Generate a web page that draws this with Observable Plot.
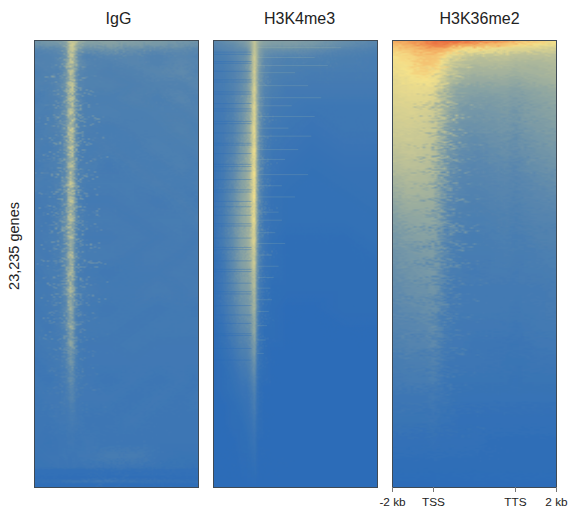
<!DOCTYPE html>
<html><head><meta charset="utf-8">
<script src="https://cdn.jsdelivr.net/npm/d3@7"></script>
<script src="https://cdn.jsdelivr.net/npm/@observablehq/plot@0.6"></script>
<style>
html,body{margin:0;padding:0;background:#fff}
#c{position:relative;width:578px;height:532px;overflow:hidden}
#c svg{position:absolute;top:0}
</style></head><body><div id="c"></div>
<script>
const titles = ["IgG", "H3K4me3", "H3K36me2"];
const titleShift = [2, 4, 5];
const yLabel = "23,235 genes";
const tickPos = [0, 0.25, 0.75, 1];
const tickText = ["-2 kb", "TSS", "TTS", "2 kb"];
const colorDomain = [0, 60, 80, 100];
const colorRange = ["#2d6db8", "#f5e28b", "#f3a35a", "#e8603a"];

const iggX = [0,.08,.15,.19,.205,.22,.235,.25,.27,.32,.45,.6,.75,.9,1];
const iggY = [0,1,2,3.5,5,7,10,13,16,20,24,28,32,36,40,44,48,52,56,60,64,68,72,76,80,85,90,93,95.5,96,98,98.6,99.2,100];
const iggV = [
[20,22,24,28,36,46,46,42,34,28,28,26,24,22,20],
[18,20,20,24,36,48,48,38,28,24,26,24,22,20,18],
[12,13,15,20,34,44,46,34,22,17,19,17,15,15,13],
[10,11,12,18,32,46,44,28,15,11,13,13,11,13,11],
[12,11,13,20,34,44,46,30,17,12,11,13,11,14,12],
[9,11,11,18,32,44,42,24,13,11,10,11,13,15,11],
[11,10,13,20,36,46,44,26,13,11,11,10,11,11,13],
[8,10,11,18,34,44,42,22,12,9,9,11,9,13,10],
[10,9,12,20,34,46,42,24,11,10,10,9,10,10,11],
[8,10,11,18,34,48,44,22,11,9,8,9,9,11,9],
[9,8,10,18,36,48,42,22,10,8,9,8,10,9,10],
[7,9,10,16,32,44,42,20,9,9,7,9,8,10,8],
[9,8,10,18,34,48,40,20,10,8,8,8,9,8,9],
[7,8,9,18,34,46,42,18,9,7,7,8,7,9,7],
[8,7,10,20,36,46,38,18,10,8,8,7,8,8,9],
[7,8,9,18,32,44,38,16,9,7,7,8,7,8,7],
[8,7,9,16,30,42,36,16,9,8,8,7,8,7,8],
[6,8,8,16,32,42,34,14,8,7,6,7,7,8,7],
[7,7,9,16,30,40,34,14,9,8,7,7,8,7,8],
[6,7,8,14,26,38,30,13,8,7,6,7,6,7,6],
[7,6,8,13,24,36,28,12,8,7,7,6,7,7,7],
[6,7,7,12,20,30,24,11,7,6,6,7,6,6,6],
[5,6,7,10,16,22,20,10,7,6,6,6,6,6,6],
[6,5,6,9,12,18,16,9,7,6,5,6,5,6,5],
[5,6,6,8,9,13,12,8,6,6,6,5,6,5,6],
[5,5,6,6,7,8,8,7,6,5,5,6,5,5,5],
[5,4,5,5,6,6,6,5,5,6,5,5,5,5,5],
[4,5,5,6,5,5,5,5,6,6,8,8,5,4,4],
[4,4,5,4,5,4,5,5,4,5,5,5,4,4,3],
[2,2,2,2,2,2,2,2,2,2,2,2,2,2,2],
[1,1,1,1,1,1,1,1,1,1,1,1,1,1,1],
[3,3,3,4,4,4,5,5,5,6,6,5,4,3,3],
[1,1,1,1,1,1,1,1,1,1,1,1,1,1,1],
[1,1,1,1,1,1,1,1,1,1,1,1,1,1,1]
];

const k4X = [0,.06,.12,.17,.2,.22,.235,.25,.265,.28,.31,.36,.45,.6,.8,1];
const k4Y = [0,1,2,4,7,11,15,20,25,30,35,40,45,50,55,60,65,70,74,78,82,86,90,100];
const k4V = [
[14,16,20,24,26,30,38,48,38,32,28,26,26,24,18,14],
[12,14,16,20,24,28,36,46,36,30,26,24,24,22,16,12],
[10,12,14,16,18,24,34,46,36,26,20,18,18,16,12,10],
[8,9,12,16,20,26,38,50,36,24,15,12,10,10,9,8],
[7,8,11,15,19,25,37,52,34,21,14,10,9,8,8,8],
[7,8,11,16,21,27,40,54,34,20,12,9,7,7,7,7],
[6,7,11,18,24,30,43,57,34,19,11,7,6,5,5,5],
[5,7,11,19,26,33,46,58,33,17,9,6,5,4,5,5],
[4,7,12,22,28,35,48,60,32,15,8,5,4,3,4,4],
[3,7,14,25,30,37,50,62,32,14,7,4,3,2,3,3],
[3,8,16,27,32,38,50,61,29,13,6,3,2,2,2,3],
[3,8,17,28,32,37,49,58,28,11,5,3,2,2,2,2],
[2,8,16,27,31,36,47,54,25,10,5,2,1,1,1,2],
[1,6,15,25,28,32,41,50,22,9,4,2,1,1,1,1],
[1,6,13,22,24,27,35,43,18,7,3,1,1,1,1,1],
[1,5,11,18,20,23,30,39,16,6,2,1,0,0,1,1],
[0,3,8,13,15,17,24,33,12,4,1,1,0,0,0,0],
[0,2,5,9,10,13,18,25,9,3,1,0,0,0,0,0],
[0,1,3,6,7,9,13,18,6,2,1,0,0,0,0,0],
[0,1,2,4,4,6,8,12,4,1,0,0,0,0,0,0],
[0,0,1,2,3,4,6,9,3,1,0,0,0,0,0,0],
[0,0,1,1,2,3,4,6,2,1,0,0,0,0,0,0],
[0,0,0,1,1,2,3,4,1,0,0,0,0,0,0,0],
[0,0,0,0,0,0,0,0,0,0,0,0,0,0,0,0]
];
const k4DarkY = [2.6,3.1,4.7,5.1,6.9,8.8,9.3,11.5,12,14.1,15.3,15.8,18.1,18.6,20.7,23,23.4,25.3,27.7,28.2,29.2,31.1,33.4,33.9,36,37.2,39.1,41,41.5,44.2,46.3,46.8,49.3,51.2,51.7,54.3,56.2,56.7,59.3,61.4,63.3,65.6,66,68.9,71.5];
const k4PaleY = [1.6,3.8,5.6,7.2,10.1,12.8,14.6,17,19.6,21.4,24.4,26.6,30,32.5,35,38.4,40.2,43,45.4,48,50.5,53,55.4,58,60.6,63.8,67,70];
const k4PaleX2 = [.78,.62,.7,.5,.58,.66,.48,.62,.46,.6,.52,.44,.58,.42,.5,.4,.42,.38,.44,.36,.4,.37,.35,.36,.34,.33,.32,.31];

const k36X = [0,.1,.2,.25,.3,.35,.42,.5,.6,.7,.75,.8,.9,1];
const k36Y = [0,1,2,3.5,5,7,9,11,13,16,19,22,25,28,31,34,37,40,44,48,52,56,60,64,68,72,76,80,85,90,95,100];
const k36V = [
[78,82,90,95,97,98,95,92,88,82,78,72,66,62],
[72,76,84,90,90,86,80,76,72,68,64,62,58,56],
[66,70,76,78,76,70,62,58,56,54,52,52,50,48],
[60,64,70,70,64,56,48,44,44,44,42,42,42,42],
[58,62,70,68,58,48,42,40,40,40,38,38,38,40],
[56,60,66,62,54,44,38,36,36,36,34,36,36,38],
[54,58,60,58,48,40,33,32,32,32,30,32,34,36],
[54,56,56,54,44,34,28,27,28,28,26,28,30,32],
[52,54,54,52,42,30,26,24,24,26,23,26,28,30],
[50,52,50,48,38,27,23,21,22,24,20,24,26,28],
[48,50,48,46,35,24,20,19,20,22,18,22,24,26],
[46,48,46,44,32,22,18,16,18,20,16,20,22,24],
[43,46,44,41,30,20,16,14,16,18,15,18,20,22],
[40,43,42,39,28,18,14,13,14,16,13,16,18,20],
[36,40,39,37,26,16,13,12,13,14,12,14,16,18],
[32,37,36,35,24,14,12,11,12,13,11,13,14,16],
[28,33,33,32,22,13,11,10,11,12,10,12,13,14],
[25,29,30,30,20,12,10,9,10,11,9,11,12,12],
[22,26,27,27,18,11,9,8,9,10,8,9,11,11],
[19,22,24,25,16,10,8,8,8,9,8,8,9,10],
[17,20,22,23,14,9,8,7,8,8,7,8,8,9],
[15,18,19,21,12,8,7,7,7,7,7,7,7,8],
[13,15,17,19,11,8,7,7,7,7,6,7,7,8],
[12,13,14,18,10,7,6,6,6,6,5,6,7,7],
[10,12,12,15,8,6,6,5,5,5,4,5,6,6],
[8,9,9,12,7,5,5,5,5,4,4,4,5,5],
[7,8,8,10,6,4,4,4,4,4,3,4,4,4],
[5,5,5,7,5,4,3,3,3,3,3,3,3,3],
[4,4,4,5,3,3,2,2,2,2,2,2,2,2],
[2,2,2,3,2,2,2,2,1,1,1,1,1,1],
[1,1,1,1,1,1,1,1,1,1,1,1,1,1],
[0,0,0,0,0,0,0,0,0,0,0,0,0,0]
];

const font = "Liberation Sans, Arial, sans-serif";
function samples(xs, ys, vs) {
  return ys.flatMap((y, i) => xs.map((x, j) => ({x, y, v: vs[i][j]})));
}
function panel(i, xs, ys, vs, left, grainWidth, grainOpacity, extra = []) {
  const data = samples(xs, ys, vs);
  const chan = {x: "x", y: "y", fill: "v", x1: 0, x2: 1, y1: 0, y2: 100};
  const marks = [
    Plot.raster(data, {...chan, interpolate: "barycentric", pixelSize: 1}),
    Plot.raster(data, {...chan, interpolate: "random-walk", width: grainWidth, height: 447, opacity: grainOpacity}),
    ...extra,
    Plot.frame({stroke: "#3f4a55", strokeWidth: 1}),
    Plot.text([titles[i]], {frameAnchor: "top", dx: titleShift[i], dy: -28, fontSize: 16, fill: "#222"})
  ];
  if (i === 0) marks.push(Plot.text([yLabel], {frameAnchor: "left", textAnchor: "middle", dx: -20, dy: -18, rotate: -90, fontSize: 14.5, fill: "#222"}));
  if (i === 2) marks.push(Plot.axisX({anchor: "bottom", ticks: tickPos, tickFormat: d => tickText[tickPos.indexOf(d)],
      label: null, tickSize: 5, tickPadding: 5, fontSize: 11.8, color: "#222", stroke: "#777"}));
  const svg = Plot.plot({
    width: 164 + 40 + 40, height: 532,
    marginLeft: 40, marginRight: 40, marginTop: 40, marginBottom: 45,
    style: {fontFamily: font, background: "transparent", overflow: "visible"},
    x: {domain: [0, 1], axis: null},
    y: {domain: [0, 100], reverse: true, axis: null},
    color: {type: "linear", domain: colorDomain, range: colorRange, interpolate: "rgb"},
    marks
  });
  svg.style.left = (left - 40) + "px";
  return svg;
}
const k4Extra = [
  Plot.ruleY(k4PaleY, {y: d => d, x1: 0.27, x2: (d, i) => k4PaleX2[i], stroke: "#c4d4a8", strokeOpacity: 0.2, strokeWidth: 0.8}),
  Plot.ruleY(k4DarkY, {y: d => d, x1: 0, x2: 0.235, stroke: "#2d6db8", strokeOpacity: 0.4, strokeWidth: 0.9})
];
const c = document.getElementById("c");
c.append(panel(0, iggX, iggY, iggV, 34, 80, 0.4));
c.append(panel(1, k4X, k4Y, k4V, 213, 164, 0.15, k4Extra));
c.append(panel(2, k36X, k36Y, k36V, 392, 55, 0.6));
</script></body></html>
